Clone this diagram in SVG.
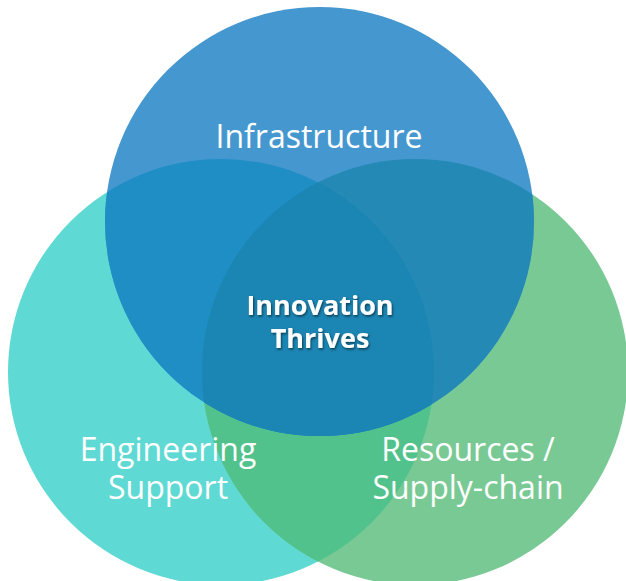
<svg xmlns="http://www.w3.org/2000/svg" width="626" height="581" viewBox="0 0 626 581">
<defs>
<clipPath id="cL"><circle cx="221" cy="372" r="213"/></clipPath>
<clipPath id="cR"><circle cx="415" cy="372" r="213"/></clipPath>
<filter id="sh" x="-20%" y="-20%" width="140%" height="140%"><feDropShadow dx="1" dy="1.5" stdDeviation="1.2" flood-color="#000" flood-opacity="0.55"/></filter>
</defs>
<style>
.lbl{font-family:"Open Sans","Liberation Sans",sans-serif;fill:#fff;text-anchor:middle}
.t{font-size:32px}
.c{font-size:27px;font-weight:bold}
</style>
<rect width="626" height="581" fill="#fff"/>
<g id="engineering">
<circle cx="221" cy="372" r="213" fill="#5fd9d3"/>
</g>
<g id="resources">
<circle cx="415" cy="372" r="213" fill="#79c995"/>
<circle cx="415" cy="372" r="213" fill="#52c28c" clip-path="url(#cL)"/>
</g>
<g id="infrastructure">
<circle cx="319.5" cy="221.5" r="214.5" fill="#4597cf"/>
<circle cx="319.5" cy="221.5" r="214.5" fill="#1f8ec5" clip-path="url(#cL)"/>
<circle cx="319.5" cy="221.5" r="214.5" fill="#2489b5" clip-path="url(#cR)"/>
<g clip-path="url(#cR)"><circle cx="319.5" cy="221.5" r="214.5" fill="#1b85b3" clip-path="url(#cL)"/></g>
</g>
<g id="labels">
<text class="lbl t" x="319" y="148">Infrastructure</text>
<text class="lbl t" x="168" y="461">Engineering<tspan x="168" y="499">Support</tspan></text>
<text class="lbl t" x="468" y="461">Resources /<tspan x="468" y="499">Supply-chain</tspan></text>
<text class="lbl c" x="320" y="315" filter="url(#sh)">Innovation<tspan x="320" y="348">Thrives</tspan></text>
</g>
<g id="connectors"/>
</svg>
